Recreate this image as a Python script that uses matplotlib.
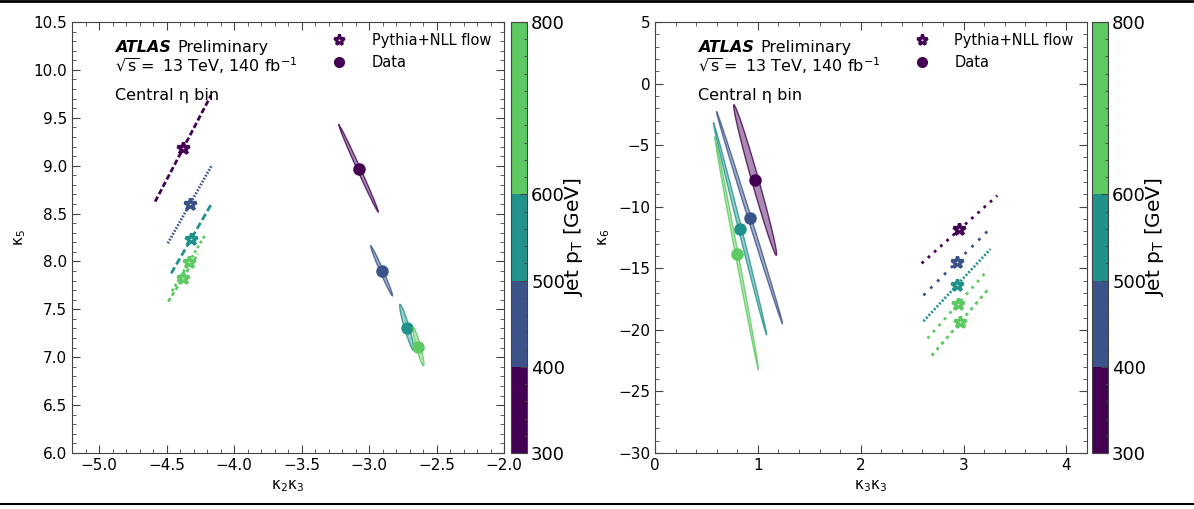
import numpy as np
import matplotlib
matplotlib.use("Agg")
import matplotlib.pyplot as plt
from matplotlib.colors import ListedColormap, BoundaryNorm
from matplotlib.lines import Line2D
import matplotlib.cm as cm

# pT bin edges for the colour bar
pt_edges = [300, 400, 500, 600, 800]
# colour index of each MC bin (last two share the 600-800 colour)
mc_cidx = [0, 1, 2, 3, 3]
dat_cidx = [0, 1, 2, 3]

# ---- left panel: k2k3 vs k5 ----
l_mc_x = [-4.377, -4.326, -4.317, -4.334, -4.377]
l_mc_y = [9.18, 8.60, 8.236, 7.99, 7.83]
l_mc_dx = [0.207, 0.164, 0.148, 0.125, 0.11]
l_mc_dy = [0.555, 0.41, 0.36, 0.30, 0.25]

l_dat_x = [-3.077, -2.906, -2.72, -2.634]
l_dat_y = [8.97, 7.90, 7.31, 7.11]
l_dat_dx = [-0.146, -0.08, -0.05, -0.038]
l_dat_dy = [0.455, 0.26, 0.24, 0.20]
l_dat_w = [0.035, 0.06, 0.1, 0.11]

# ---- right panel: k3k3 vs k6 ----
r_mc_x = [2.96, 2.932, 2.935, 2.945, 2.97]
r_mc_y = [-11.85, -14.5, -16.375, -17.9, -19.35]
r_mc_dx = [0.3675, 0.322, 0.325, 0.295, 0.28]
r_mc_dy = [2.75, 2.7, 2.925, 2.8, 2.75]

r_dat_x = [0.974, 0.919, 0.827, 0.794]
r_dat_y = [-7.85, -10.9, -11.8, -13.8]
r_dat_dx = [-0.206, -0.32, -0.258, -0.212]
r_dat_dy = [6.1, 8.6, 8.6, 9.45]
r_dat_w = [0.045, 0.015, 0.015, 0.012]

colors = [cm.viridis(v) for v in [0.0, 0.25, 0.5, 0.75]]
cmap = ListedColormap(colors)
norm = BoundaryNorm(pt_edges, cmap.N)
spine_col = "#444444"


def ellipse_pts(cx, cy, dx, dy, ratio, box):
    # thin ellipse with half major axis (dx,dy) in data units, minor = ratio*major on screen
    (x0, x1), (y0, y1), W, H = box
    kx = W / (x1 - x0)
    ky = H / (y1 - y0)
    ux, uy = dx * kx, dy * ky
    vx, vy = -uy * ratio, ux * ratio
    t = np.linspace(0, 2 * np.pi, 300)
    px = np.cos(t) * ux + np.sin(t) * vx
    py = np.cos(t) * uy + np.sin(t) * vy
    return cx + px / kx, cy + py / ky


def draw_panel(ax, mc_x, mc_y, mc_dx, mc_dy, mc_ls, d_x, d_y, d_dx, d_dy, d_w, box):
    for i in range(len(mc_x)):
        c = colors[mc_cidx[i]]
        ex, ey = mc_x[i] + np.array([-1, 1]) * mc_dx[i], mc_y[i] + np.array([-1, 1]) * mc_dy[i]
        ax.plot(ex, ey, color=c, lw=2.0, ls=mc_ls[i])
        ax.plot(mc_x[i], mc_y[i], marker="*", ms=9, mfc="white", mec=c, mew=2.4, ls="none")
    for i in range(len(d_x)):
        c = colors[dat_cidx[i]]
        ex, ey = ellipse_pts(d_x[i], d_y[i], d_dx[i], d_dy[i], d_w[i], box)
        ax.fill(ex, ey, color=c, alpha=0.45, lw=0)
        ax.plot(ex, ey, color=c, lw=1.0, alpha=0.8)
        ax.plot(d_x[i], d_y[i], marker="o", ms=8, color=c, ls="none")

    ax.tick_params(which="both", direction="in", top=True, right=True, labelsize=11,
                   color=spine_col)
    ax.tick_params(which="major", length=6)
    ax.tick_params(which="minor", length=3)
    ax.minorticks_on()
    for s in ax.spines.values():
        s.set_color(spine_col)

    ax.text(0.1, 0.93, "ATLAS", transform=ax.transAxes, fontsize=11.5,
            fontweight="bold", fontstyle="italic", va="baseline")
    ax.text(0.243, 0.93, "Preliminary", transform=ax.transAxes, fontsize=11.5, va="baseline")
    ax.text(0.1, 0.885, r"$\sqrt{\mathrm{s}}=$ 13 TeV, 140 fb$^{-1}$", transform=ax.transAxes,
            fontsize=11.5, va="baseline")
    ax.text(0.1, 0.82, "Central η bin", transform=ax.transAxes, fontsize=11.5, va="baseline")

    handles = [Line2D([], [], marker="*", ms=8, mfc="white", mec=colors[0], mew=2.2, ls="none"),
               Line2D([], [], marker="o", ms=7, color=colors[0], ls="none")]
    ax.legend(handles, ["Pythia+NLL flow", "Data"], loc="upper right",
              bbox_to_anchor=(1.0, 1.005), frameon=False, fontsize=10.5, handletextpad=1.2)


fig = plt.figure(figsize=(11.94, 5.09), dpi=100)
W_ax, H_ax = 432, 431

axl = fig.add_axes([72 / 1194, 56 / 509, W_ax / 1194, H_ax / 509])
axl.set_xlim(-5.2, -2.0)
axl.set_ylim(6.0, 10.5)
draw_panel(axl, l_mc_x, l_mc_y, l_mc_dx, l_mc_dy,
           [(0, (2, 1)), (0, (0.6, 0.6)), (0, (2.5, 1.2)), (0, (1, 1)), (0, (1.5, 1))],
           l_dat_x, l_dat_y, l_dat_dx, l_dat_dy, l_dat_w,
           ((-5.2, -2.0), (6.0, 10.5), W_ax, H_ax))
axl.set_xlabel("κ$_2$κ$_3$", fontsize=11)
axl.set_ylabel("κ$_5$", fontsize=11)

axr = fig.add_axes([655 / 1194, 56 / 509, W_ax / 1194, H_ax / 509])
axr.set_xlim(0, 4.2)
axr.set_ylim(-30, 5)
draw_panel(axr, r_mc_x, r_mc_y, r_mc_dx, r_mc_dy,
           [(0, (1, 2)), (0, (1, 2.5)), (0, (0.7, 0.7)), (0, (1, 2)), (0, (1.2, 1.5))],
           r_dat_x, r_dat_y, r_dat_dx, r_dat_dy, r_dat_w,
           ((0, 4.2), (-30, 5), W_ax, H_ax))
axr.set_xticks([0, 1, 2, 3, 4])
axr.set_xlabel("κ$_3$κ$_3$", fontsize=11)
axr.set_ylabel("κ$_6$", fontsize=11)

for x0 in [511, 1092]:
    cax = fig.add_axes([x0 / 1194, 56 / 509, 16 / 1194, H_ax / 509])
    cb = fig.colorbar(cm.ScalarMappable(norm=norm, cmap=cmap), cax=cax,
                      spacing="proportional", ticks=pt_edges)
    cb.ax.minorticks_on()
    cb.ax.yaxis.set_minor_locator(matplotlib.ticker.MultipleLocator(20))
    cb.ax.tick_params(which="both", labelsize=13, direction="in", color=spine_col, pad=3)
    cb.ax.tick_params(which="major", length=5)
    cb.ax.tick_params(which="minor", length=2.5)
    cb.outline.set_edgecolor(spine_col)
    cb.set_label(r"Jet p$_\mathrm{T}$ [GeV]", fontsize=14.5, labelpad=-2)

# thin frame lines at top and bottom of the image
fig.add_artist(Line2D([0, 1], [0.998, 0.998], color="black", lw=2, transform=fig.transFigure))
fig.add_artist(Line2D([0, 1], [5 / 509, 5 / 509], color="black", lw=1.5, transform=fig.transFigure))

fig.savefig("out.png", dpi=100)
